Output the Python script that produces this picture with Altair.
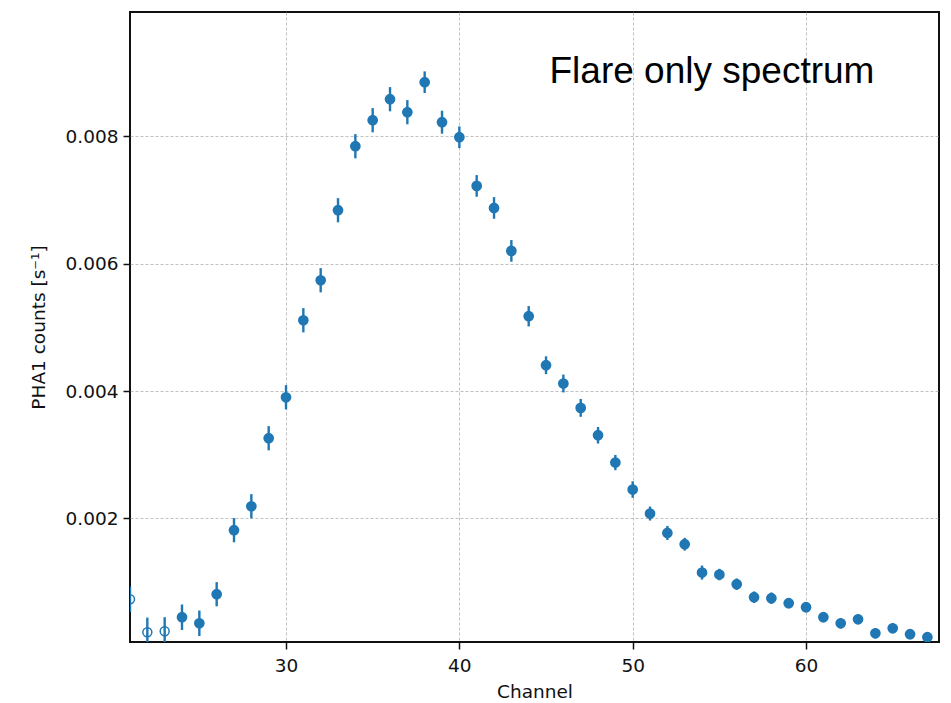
import altair as alt
import pandas as pd

channels = list(range(21, 68))
counts = [
    0.000731, 0.000213, 0.000229, 0.000449, 0.000354, 0.000810, 0.001815, 0.002191,
    0.003259, 0.003902, 0.005111, 0.005739, 0.006838, 0.007843, 0.008251, 0.008581,
    0.008377, 0.008848, 0.008220, 0.007984, 0.007220, 0.006874, 0.006200, 0.005174,
    0.004405, 0.004118, 0.003735, 0.003306, 0.002877, 0.002453, 0.002077, 0.001772,
    0.001595, 0.001150, 0.001119, 0.000967, 0.000763, 0.000747, 0.000669, 0.000606,
    0.000449, 0.000354, 0.000417, 0.000197, 0.000276, 0.000182, 0.000135,
]
errors = [
    0.00020, 0.00023, 0.00022, 0.00020, 0.00020, 0.00019, 0.00019, 0.00019,
    0.00019, 0.00019, 0.00019, 0.00019, 0.00019, 0.00019, 0.00019, 0.00019,
    0.00019, 0.00017, 0.00018, 0.00017, 0.00017, 0.00017, 0.00017, 0.00016,
    0.00014, 0.00014, 0.00014, 0.00013, 0.00012, 0.00013, 0.00011, 0.00011,
    0.00010, 0.00011, 0.00009, 0.00009, 0.00009, 0.00009, 0.00008, 0.00008,
    0.00008, 0.00008, 0.00008, 0.00008, 0.00008, 0.00008, 0.00008,
]
ignored_channels = [21, 22, 23]

x_ticks = [30, 40, 50, 60]
y_ticks = [0.002, 0.004, 0.006, 0.008]
x_domain = [21.0, 67.67]
y_domain = [0.00006, 0.00995]

annotation_text = ["Flare only spectrum"]
annotation_x = [45.2]
annotation_y = [0.00883]

df = pd.DataFrame({"channel": channels, "counts": counts, "err": errors})
df["lo"] = df["counts"] - df["err"]
df["hi"] = df["counts"] + df["err"]
df["ignored"] = df["channel"].isin(ignored_channels)

ann = pd.DataFrame({"text": annotation_text, "x": annotation_x, "y": annotation_y})

blue = "#1f77b4"
FONT = "DejaVu Sans"

x_enc = alt.X(
    "channel:Q",
    scale=alt.Scale(domain=x_domain, nice=False, zero=False),
    axis=alt.Axis(values=x_ticks, title="Channel", format="d"),
)
y_enc = alt.Y(
    "counts:Q",
    scale=alt.Scale(domain=y_domain, nice=False, zero=False),
    axis=alt.Axis(values=y_ticks, title="PHA1 counts [s⁻¹]", format=".3f"),
)

base = alt.Chart(df)

bars = base.mark_rule(color=blue, strokeWidth=2.4, clip=True).encode(
    x=x_enc, y=alt.Y("lo:Q", scale=alt.Scale(domain=y_domain, nice=False, zero=False)), y2="hi:Q"
)

filled = base.transform_filter("!datum.ignored").mark_point(
    filled=True, size=115, color=blue, opacity=1, clip=True
).encode(x=x_enc, y=y_enc)

hollow = base.transform_filter("datum.ignored").mark_point(
    filled=False, size=80, color=blue, strokeWidth=1.5, opacity=1, clip=True
).encode(x=x_enc, y=y_enc)

text = alt.Chart(ann).mark_text(
    font="Liberation Sans", fontSize=37, align="left", baseline="alphabetic", color="black"
).encode(
    x=alt.X("x:Q", scale=alt.Scale(domain=x_domain, nice=False, zero=False)),
    y=alt.Y("y:Q", scale=alt.Scale(domain=y_domain, nice=False, zero=False)),
    text="text:N",
)

chart = (
    alt.layer(bars, filled, hollow, text)
    .properties(
        width=809,
        height=630,
        autosize=alt.AutoSizeParams(type="none"),
        padding={"left": 130, "top": 12, "right": 12, "bottom": 61},
    )
    .configure_view(stroke="#111111", strokeWidth=2)
    .configure_axis(
        domain=False,
        grid=True,
        gridColor="#b0b0b0",
        gridDash=[3, 2],
        gridWidth=0.8,
        ticks=True,
        tickColor="#111111",
        tickSize=7,
        tickWidth=1.5,
        labelFont=FONT,
        labelFontSize=18.5,
        labelColor="#111111",
        titleFont=FONT,
        titleFontSize=18.5,
        titleFontWeight="normal",
        titleColor="#111111",
    )
    .configure_axisX(labelPadding=7, titlePadding=8)
    .configure_axisY(labelPadding=5, titlePadding=17)
)

chart.save("out.html", embed_options={"renderer": "svg", "actions": False})
